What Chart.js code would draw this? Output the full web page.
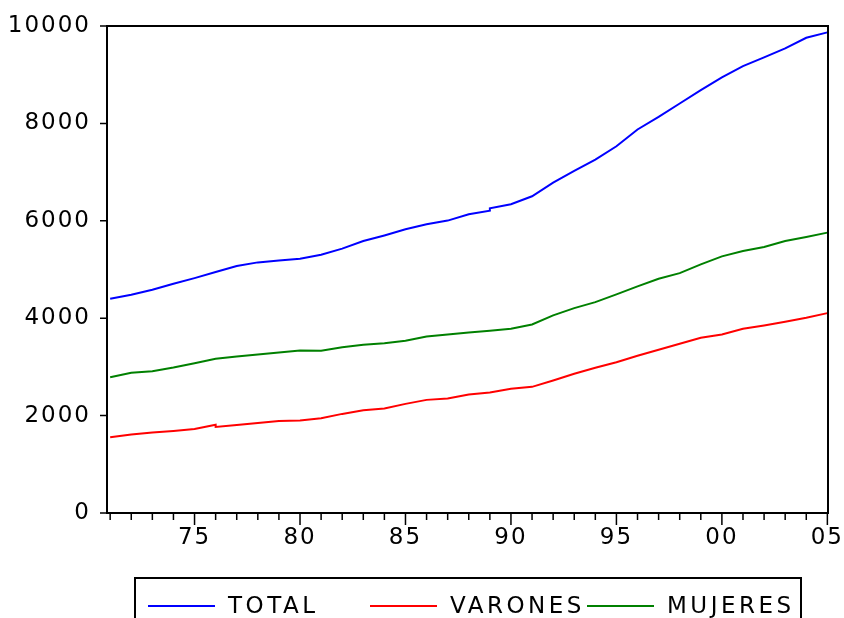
<!DOCTYPE html>
<html>
<head>
<meta charset="utf-8">
<script src="https://cdn.jsdelivr.net/npm/chart.js@4.4.1/dist/chart.umd.min.js"></script>
<style>
    html, body { margin: 0; padding: 0; background: #fff; }
    #wrap { width: 844px; height: 618px; overflow: hidden; }
</style>
</head>
<body>
<div id="wrap"><canvas id="poblacionChart" width="844" height="618"></canvas></div>
<script>
// datos anuales 1971-2005
var years = [1971, 1972, 1973, 1974, 1975, 1976, 1977, 1978, 1979, 1980,
             1981, 1982, 1983, 1984, 1985, 1986, 1987, 1988, 1989, 1990,
             1991, 1992, 1993, 1994, 1995, 1996, 1997, 1998, 1999, 2000,
             2001, 2002, 2003, 2004, 2005];
var total = [4400, 4482, 4585, 4708, 4823, 4947, 5070, 5146, 5187, 5222,
             5304, 5428, 5584, 5700, 5825, 5928, 6004, 6133, 6255, 6339,
             6503, 6785, 7023, 7258, 7531, 7875, 8133, 8409, 8683, 8944,
             9176, 9355, 9540, 9758, 9869];
var varones = [1554, 1610, 1651, 1686, 1727, 1768, 1805, 1850, 1891, 1898,
               1945, 2035, 2110, 2144, 2241, 2323, 2350, 2432, 2473, 2549,
               2590, 2720, 2858, 2981, 3096, 3228, 3351, 3475, 3598, 3666,
               3783, 3851, 3927, 4009, 4104];
var mujeres = [2788, 2878, 2911, 2987, 3076, 3166, 3214, 3255, 3296, 3337,
               3331, 3405, 3454, 3487, 3536, 3625, 3666, 3707, 3742, 3783,
               3871, 4057, 4207, 4330, 4488, 4653, 4811, 4926, 5105, 5270,
               5379, 5461, 5584, 5666, 5757];
// saltos de serie: [año, valor antes del salto]
var totalStep = [1989, 6209];
var varonesStep = [1976, 1812];
var mujeresStep = null;
var yTicks = [0, 2000, 4000, 6000, 8000, 10000];

function toPoints(values, step) {
    var pts = [];
    years.forEach(function (yr, i) {
        if (step && step[0] === yr) {
            pts.push({ x: yr, y: step[1] });
        }
        pts.push({ x: yr, y: values[i] });
    });
    return pts;
}

var FONT = "'DejaVu Sans', sans-serif";

var evPlugin = {
    id: "evFrame",
    beforeLayout: function (chart) {
        chart.ctx.letterSpacing = "2px";
    },
    beforeDraw: function (chart) {
        chart.ctx.letterSpacing = "2px";
    },
    afterDatasetsDraw: function (chart) {
        var ctx = chart.ctx;
        var a = chart.chartArea;
        var xs = chart.scales.x;
        var ys = chart.scales.y;
        ctx.save();
        ctx.strokeStyle = "#000";
        ctx.lineWidth = 1.5;
        ctx.beginPath();
        years.forEach(function (yr) {
            var px = xs.getPixelForValue(yr);
            ctx.moveTo(px, a.bottom);
            ctx.lineTo(px, a.bottom + (yr % 5 === 0 ? 12 : 7));
        });
        yTicks.forEach(function (v) {
            var py = ys.getPixelForValue(v);
            ctx.moveTo(a.left, py);
            ctx.lineTo(a.left - 7, py);
        });
        ctx.stroke();
        ctx.lineWidth = 2;
        ctx.strokeRect(a.left, a.top, a.right - a.left, a.bottom - a.top);
        ctx.restore();
    },
    afterDraw: function (chart) {
        var ctx = chart.ctx;
        var cols = [148, 370, 587];
        ctx.save();
        ctx.strokeStyle = "#000";
        ctx.lineWidth = 2;
        ctx.strokeRect(135, 578, 666, 60);
        ctx.font = "23px " + FONT;
        ctx.letterSpacing = "3.5px";
        ctx.textBaseline = "middle";
        ctx.fillStyle = "#000";
        chart.data.datasets.forEach(function (ds, i) {
            ctx.strokeStyle = ds.borderColor;
            ctx.lineWidth = 2;
            ctx.beginPath();
            ctx.moveTo(cols[i], 606);
            ctx.lineTo(cols[i] + 67, 606);
            ctx.stroke();
            ctx.fillText(ds.label, cols[i] + 80, 607);
        });
        ctx.restore();
    }
};

var chart = new Chart(document.getElementById("poblacionChart"), {
    type: "line",
    data: {
        datasets: [
            { label: "TOTAL", data: toPoints(total, totalStep), borderColor: "#0000ff" },
            { label: "VARONES", data: toPoints(varones, varonesStep), borderColor: "#ff0000" },
            { label: "MUJERES", data: toPoints(mujeres, mujeresStep), borderColor: "#008000" }
        ]
    },
    options: {
        responsive: false,
        devicePixelRatio: 1,
        animation: false,
        layout: { padding: { top: 26, right: 16, left: 0, bottom: 0 } },
        elements: {
            line: { borderWidth: 2, tension: 0, fill: false },
            point: { radius: 0 }
        },
        scales: {
            x: {
                type: "linear",
                min: 1970.85,
                max: 2005.03,
                afterBuildTicks: function (s) {
                    s.ticks = years.map(function (v) { return { value: v }; });
                },
                afterFit: function (s) {
                    s.height = 105;
                    s.paddingLeft = 0;
                    s.paddingRight = 0;
                },
                grid: { display: false, drawTicks: false },
                border: { display: false },
                ticks: {
                    autoSkip: false,
                    maxRotation: 0,
                    padding: 11,
                    color: "#000",
                    font: { family: FONT, size: 23 },
                    callback: function (v) {
                        return v % 5 === 0 ? String(v % 100).padStart(2, "0") : "";
                    }
                }
            },
            y: {
                min: 0,
                max: 10000,
                afterBuildTicks: function (s) {
                    s.ticks = yTicks.map(function (v) { return { value: v }; });
                },
                afterFit: function (s) {
                    s.width = 107;
                    s.paddingTop = 0;
                    s.paddingBottom = 0;
                },
                grid: { display: false, drawTicks: false },
                border: { display: false },
                ticks: {
                    padding: 16,
                    color: "#000",
                    font: { family: FONT, size: 23 },
                    callback: function (v) { return String(v); }
                }
            }
        },
        plugins: {
            legend: { display: false },
            tooltip: { enabled: false }
        }
    },
    plugins: [evPlugin]
});
</script>
</body>
</html>
